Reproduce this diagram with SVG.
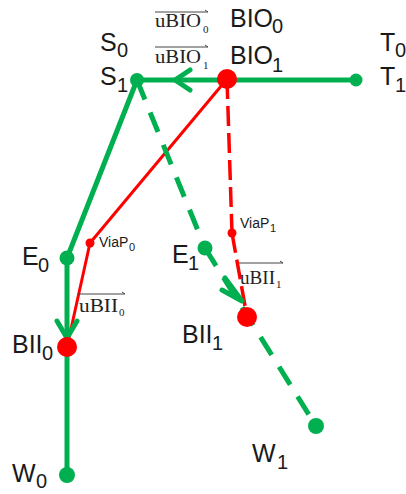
<svg xmlns="http://www.w3.org/2000/svg" width="406" height="494" viewBox="0 0 406 494">
<style>
.g{stroke:#00b050;fill:none;stroke-width:5}
.gd{stroke:#00b050;fill:none;stroke-width:5;stroke-dasharray:21 14}
.r{stroke:#ff0000;fill:none;stroke-width:3}
.rd{stroke:#ff0000;fill:none;stroke-width:3.5;stroke-dasharray:20 7}
.ah{stroke:#00b050;fill:none;stroke-width:5;stroke-linecap:round;stroke-linejoin:round}
.gdot{fill:#00b050}
.rdot{fill:#ff0000}
.lb{font-family:"Liberation Sans",Arial,sans-serif;font-size:25px;fill:#1a1a1a}
.sb{font-family:"Liberation Sans",Arial,sans-serif;font-size:20px;fill:#1a1a1a}
.vl{font-family:"Liberation Sans",Arial,sans-serif;font-size:14px;fill:#1a1a1a}
.vs{font-family:"Liberation Sans",Arial,sans-serif;font-size:11px;fill:#1a1a1a}
.u{font-family:"Liberation Serif","Times New Roman",serif;font-size:18px;fill:#222}
.us{font-family:"Liberation Serif","Times New Roman",serif;font-size:11px;fill:#222}
.ol{stroke:#444;stroke-width:1;fill:none}
</style>
<g id="connectors">
<line class="g" x1="137" y1="80" x2="356" y2="80"/>
<polyline class="g" points="137,80 67,258 67,475"/>
<line class="gd" x1="205" y1="248" x2="316" y2="426"/>
<line class="r" x1="227" y1="79" x2="90" y2="243"/>
<line class="r" x1="90" y1="243" x2="67" y2="347"/>
<line class="gd" x1="137" y1="80" x2="205" y2="248"/>
<line class="rd" x1="227" y1="79" x2="232" y2="233"/>
<line class="rd" x1="232" y1="233" x2="247" y2="317"/>
<polyline class="ah" points="190,70 175,80 190,90"/>
<polyline class="ah" points="57,321 67,338 77,321"/>
<polyline class="ah" points="225,278 242,301 222,290"/>
</g>
<g id="S">
<circle class="gdot" cx="137" cy="80" r="7"/>
<text class="lb" x="100" y="51">S</text><text class="sb" x="117" y="57">0</text>
<text class="lb" x="100" y="85">S</text><text class="sb" x="117" y="92">1</text>
</g>
<g id="T">
<circle class="gdot" cx="356" cy="80" r="6.5"/>
<text class="lb" x="380" y="51">T</text><text class="sb" x="395" y="57">0</text>
<text class="lb" x="380" y="85">T</text><text class="sb" x="395" y="92">1</text>
</g>
<g id="BIO">
<circle class="rdot" cx="227" cy="79" r="10"/>
<text class="lb" x="230" y="27">BIO</text><text class="sb" x="272" y="33">0</text>
<text class="lb" x="230" y="64">BIO</text><text class="sb" x="272" y="72">1</text>
</g>
<g id="uBIO">
<line class="ol" x1="155" y1="12" x2="208" y2="12"/><line class="ol" x1="205" y1="10" x2="208" y2="12"/>
<text class="u" x="155" y="27" textLength="46" lengthAdjust="spacingAndGlyphs">uBIO</text><text class="us" x="203" y="33">0</text>
<line class="ol" x1="155" y1="47" x2="208" y2="47"/><line class="ol" x1="205" y1="45" x2="208" y2="47"/>
<text class="u" x="155" y="63" textLength="46" lengthAdjust="spacingAndGlyphs">uBIO</text><text class="us" x="203" y="69">1</text>
</g>
<g id="E0">
<circle class="gdot" cx="67" cy="258" r="7.5"/>
<text class="lb" x="22" y="265">E</text><text class="sb" x="38" y="272">0</text>
</g>
<g id="E1">
<circle class="gdot" cx="205" cy="248" r="7.5"/>
<text class="lb" x="172" y="263">E</text><text class="sb" x="188" y="270">1</text>
</g>
<g id="ViaP0">
<circle class="rdot" cx="90" cy="243" r="4.5"/>
<text class="vl" x="99" y="247">ViaP</text><text class="vs" x="129" y="251">0</text>
</g>
<g id="ViaP1">
<circle class="rdot" cx="232" cy="233" r="4.5"/>
<text class="vl" x="240" y="228">ViaP</text><text class="vs" x="270" y="232">1</text>
</g>
<g id="BII0">
<circle class="rdot" cx="67" cy="347" r="10"/>
<text class="lb" x="12" y="353">BII</text><text class="sb" x="42" y="360">0</text>
<line class="ol" x1="78" y1="294" x2="125" y2="294"/><line class="ol" x1="122" y1="292" x2="125" y2="294"/>
<text class="u" x="79" y="312" textLength="39" lengthAdjust="spacingAndGlyphs">uBII</text><text class="us" x="119" y="316">0</text>
</g>
<g id="BII1">
<circle class="rdot" cx="247" cy="317" r="10"/>
<text class="lb" x="182" y="343">BII</text><text class="sb" x="212" y="350">1</text>
<line class="ol" x1="239" y1="263" x2="283" y2="263"/><line class="ol" x1="280" y1="261" x2="283" y2="263"/>
<text class="u" x="240" y="284" textLength="35" lengthAdjust="spacingAndGlyphs">uBII</text><text class="us" x="276" y="288">1</text>
</g>
<g id="W0">
<circle class="gdot" cx="67" cy="475" r="8"/>
<text class="lb" x="12" y="482">W</text><text class="sb" x="36" y="488">0</text>
</g>
<g id="W1">
<circle class="gdot" cx="316" cy="426" r="8"/>
<text class="lb" x="252" y="462">W</text><text class="sb" x="277" y="469">1</text>
</g>
</svg>
